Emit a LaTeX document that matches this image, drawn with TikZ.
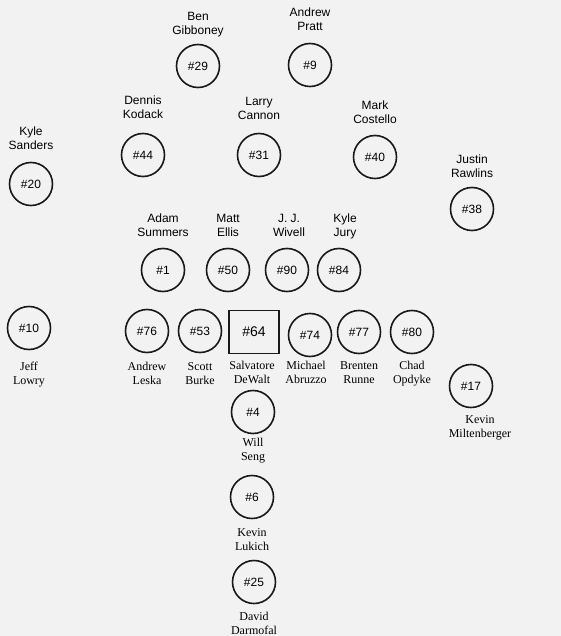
\documentclass[tikz,border=0pt]{standalone}
\usepackage{fontspec}
\setmainfont{Liberation Serif}
\setsansfont{Liberation Sans}
\usetikzlibrary{positioning}

\begin{document}
\begin{tikzpicture}[x=1pt,y=-1pt,
	player/.style={circle,draw=black!90,line width=1.6pt,minimum size=43pt,inner sep=0pt,
		font=\sffamily\fontsize{12}{14}\selectfont},
	snapper/.style={rectangle,draw=black!90,line width=1.8pt,minimum width=50pt,minimum height=43pt,
		inner sep=0pt,font=\sffamily\fontsize{14}{16}\selectfont},
	topname/.style={align=center,inner sep=0pt,text depth=0pt,
		font=\sffamily\fontsize{12}{14}\selectfont},
	lowname/.style={align=center,inner sep=0pt,
		font=\rmfamily\fontsize{12}{14}\selectfont}]
	
	\fill[black!5] (0,0) rectangle (561,636);
	\useasboundingbox (0,0) rectangle (561,636);
	
	% deep backs
	\node[player] (n29) at (198,66) {\#29};
	\node[topname,above=9pt of n29] (l29) {Ben\\Gibboney};
	\node[player] (n9) at (310,65) {\#9};
	\node[topname,above=12pt of n9] (l9) {Andrew\\Pratt};
	
	% linebackers
	\node[player] (n44) at (143,155) {\#44};
	\node[topname,above=14pt of n44] (l44) {Dennis\\Kodack};
	\node[player] (n31) at (259,155) {\#31};
	\node[topname,above=13pt of n31] (l31) {Larry\\Cannon};
	\node[player] (n40) at (375,157) {\#40};
	\node[topname,above=11pt of n40] (l40) {Mark\\Costello};
	
	% corners
	\node[player] (n20) at (31,184) {\#20};
	\node[topname,above=12pt of n20] (l20) {Kyle\\Sanders};
	\node[player] (n38) at (472,209) {\#38};
	\node[topname,above=9pt of n38] (l38) {Justin\\Rawlins};
	
	% defensive front
	\node[player] (n1) at (163,270) {\#1};
	\node[topname,above=11pt of n1] (l1) {Adam\\Summers};
	\node[player] (n50) at (228,270) {\#50};
	\node[topname,above=11pt of n50] (l50) {Matt\\Ellis};
	\node[player] (n90) at (287,270) {\#90};
	\node[topname,above=11pt of n90,xshift=2pt] (l90) {J. J.\\Wivell};
	\node[player] (n84) at (339,270) {\#84};
	\node[topname,above=11pt of n84,xshift=6pt] (l84) {Kyle\\Jury};
	
	% offensive line
	\node[player] (n10) at (29,328) {\#10};
	\node[lowname,below=12pt of n10] (l10) {Jeff\\Lowry};
	\node[player] (n76) at (147,331) {\#76};
	\node[lowname,below=9pt of n76] (l76) {Andrew\\Leska};
	\node[player] (n53) at (200,331) {\#53};
	\node[lowname,below=9pt of n53] (l53) {Scott\\Burke};
	\node[snapper] (n64) at (254,332) {\#64};
	\node[lowname,below=7pt of n64,xshift=-2pt] (l64) {Salvatore\\DeWalt};
	\node[player] (n74) at (310,335) {\#74};
	\node[lowname,below=4pt of n74,xshift=-4pt] (l74) {Michael\\Abruzzo};
	\node[player] (n77) at (359,332) {\#77};
	\node[lowname,below=7pt of n77] (l77) {Brenten\\Runne};
	\node[player] (n80) at (412,332) {\#80};
	\node[lowname,below=7pt of n80] (l80) {Chad\\Opdyke};
	\node[player] (n17) at (471,386) {\#17};
	\node[lowname,below=7pt of n17,xshift=9pt] (l17) {Kevin\\Miltenberger};
	
	% backfield
	\node[player] (n4) at (253,412) {\#4};
	\node[lowname,below=4pt of n4] (l4) {Will\\Seng};
	\node[player] (n6) at (252,497) {\#6};
	\node[lowname,below=9pt of n6] (l6) {Kevin\\Lukich};
	\node[player] (n25) at (254,582) {\#25};
	\node[lowname,below=8pt of n25] (l25) {David\\Darmofal};
\end{tikzpicture}
\end{document}
